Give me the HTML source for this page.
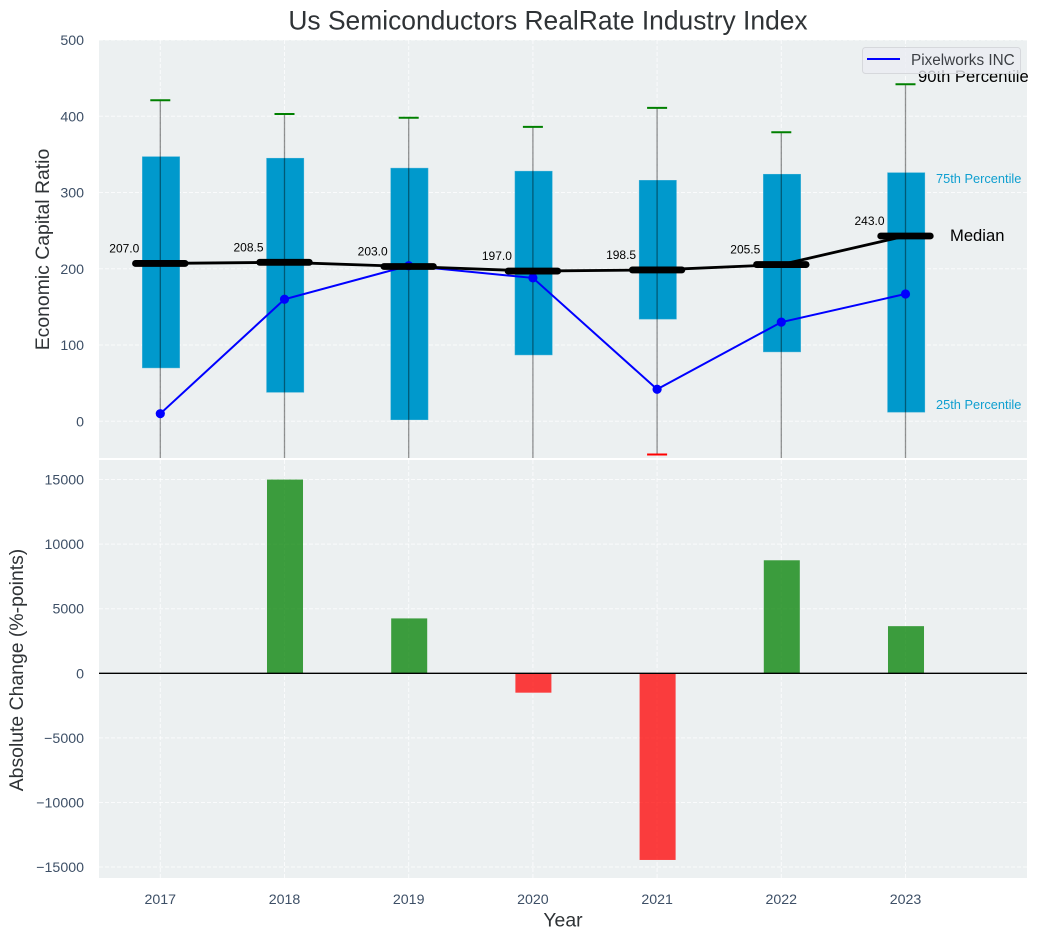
<!DOCTYPE html>
<html lang="en">
<head>
<meta charset="utf-8">
<title>Us Semiconductors RealRate Industry Index</title>
<style>
html,body{margin:0;padding:0;background:#fff;}
svg{display:block;font-family:"Liberation Sans",Arial,sans-serif;}
</style>
</head>
<body>
<svg id="chart" xmlns="http://www.w3.org/2000/svg" width="1038" height="940" viewBox="0 0 1038 940">
  <defs>
    <clipPath id="clip-top"><rect x="99" y="40" width="928" height="418"/></clipPath>
    <clipPath id="clip-bottom"><rect x="99" y="460" width="928" height="418"/></clipPath>
  </defs>
  <rect x="99" y="40" width="928" height="418" fill="#ecf0f1"/>
  <rect x="99" y="460" width="928" height="418" fill="#ecf0f1"/>
  <g id="top-grid" clip-path="url(#clip-top)"></g>
  <g id="bottom-grid" clip-path="url(#clip-bottom)"></g>
  <g id="boxes" clip-path="url(#clip-top)"></g>
  <g id="whiskers" clip-path="url(#clip-top)"></g>
  <g id="company" clip-path="url(#clip-top)"></g>
  <g id="medians" clip-path="url(#clip-top)"></g>
  <g id="median-labels"></g>
  <g id="bars" clip-path="url(#clip-bottom)"></g>
  <line id="zero-line" x1="99" x2="1027" stroke="#000" stroke-width="1.3"/>
  <g id="y-ticks-top"></g>
  <g id="y-ticks-bottom"></g>
  <g id="x-ticks"></g>

  <text x="548" y="29.5" text-anchor="middle" font-size="26.4px" fill="#2f3336">Us Semiconductors RealRate Industry Index</text>
  <text transform="translate(49,249.5) rotate(-90)" text-anchor="middle" font-size="19.4px" fill="#2f3336">Economic Capital Ratio</text>
  <text transform="translate(23,670) rotate(-90)" text-anchor="middle" font-size="19.4px" fill="#2f3336">Absolute Change (%-points)</text>
  <text x="563" y="926.5" text-anchor="middle" font-size="19.4px" fill="#2f3336">Year</text>

  <text x="918" y="82" font-size="16.6px" fill="#000">90th Percentile</text>
  <text x="936" y="183" font-size="12.8px" fill="#0f9fd0">75th Percentile</text>
  <text x="950" y="241" font-size="16.6px" fill="#000">Median</text>
  <text x="936" y="409" font-size="12.8px" fill="#0f9fd0">25th Percentile</text>

  <g>
    <rect x="862.5" y="47.5" width="158" height="26" rx="3" fill="#ebecf2" fill-opacity="0.8" stroke="#d6d8dc" stroke-width="1"/>
    <line x1="867" x2="900" y1="59" y2="59" stroke="#0000ff" stroke-width="2"/>
    <text x="911" y="65" font-size="15.3px" fill="#3c3f44">Pixelworks INC</text>
  </g>
</svg>
<script>
const years = [2017, 2018, 2019, 2020, 2021, 2022, 2023];
const p90 = [421, 403, 398, 386, 411, 379, 442];
const p75 = [347, 345, 332, 328, 316, 324, 326];
const medians = [207.0, 208.5, 203.0, 197.0, 198.5, 205.5, 243.0];
const p25 = [70, 38, 2, 87, 134, 91, 12];
const p10 = [-110, -95, -120, -90, -43.5, -100, -105];
const company = [10, 160, 204, 188, 42, 130, 167];
const changes = [0, 15000, 4250, -1500, -14450, 8750, 3650];
const topTicks = [500, 400, 300, 200, 100, 0];
const bottomTicks = [15000, 10000, 5000, 0, -5000, -10000, -15000];

const NS = 'http://www.w3.org/2000/svg';
const xScale = v => 160.3 + (v - 2017) * 124.2;
const yTop = v => 421.3 - v * 0.7626;
const yBottom = v => 673.3 - v * 0.012917;
const xWidth = yrs => yrs * 124.2;

function make(tag, props, parent, text) {
  const el = document.createElementNS(NS, tag);
  for (const k in props) el.setAttribute(k, props[k]);
  if (text !== undefined) el.textContent = text;
  document.getElementById(parent).appendChild(el);
  return el;
}
const gridStyle = {stroke: '#fff', 'stroke-width': 1, 'stroke-dasharray': '4 2', 'stroke-opacity': 0.75};

topTicks.forEach(t => {
  const line = make('line', Object.assign({x1: 99, x2: 1027, y1: yTop(t), y2: yTop(t)}, gridStyle), 'top-grid');
  
  
  const label = make('text', {x: 84, y: yTop(t) + 5, 'text-anchor': 'end', 'font-size': '14.2px', fill: '#3d4f66'}, 'y-ticks-top', String(t));
  
  
});

bottomTicks.forEach(t => {
  const line = make('line', Object.assign({x1: 99, x2: 1027, y1: yBottom(t), y2: yBottom(t)}, gridStyle), 'bottom-grid');
  
  
  const label = make('text', {x: 84, y: yBottom(t) + 5, 'text-anchor': 'end', 'font-size': '14.2px', fill: '#3d4f66'}, 'y-ticks-bottom', String(t).replace('-', '\u2212'));
  
  
});

years.forEach((yr, i) => {
  const x = xScale(yr);

  const topV = make('line', Object.assign({x1: x, x2: x, y1: 40, y2: 458}, gridStyle), 'top-grid');
  
  

  const botV = make('line', Object.assign({x1: x, x2: x, y1: 460, y2: 878}, gridStyle), 'bottom-grid');
  
  

  const tick = make('text', {x: x, y: 904, 'text-anchor': 'middle', 'font-size': '14.2px', fill: '#3d4f66'}, 'x-ticks', String(yr));
  
  

  const box = make('rect', {x: x - xWidth(0.15) + 0.7, y: yTop(p75[i]), width: xWidth(0.3), height: yTop(p25[i]) - yTop(p75[i]), fill: '#0099cc', stroke: '#3aaed6', 'stroke-width': 0.5}, 'boxes');
  
  

  const whisker = make('line', {x1: x, x2: x, y1: yTop(p90[i]), y2: yTop(p10[i]), stroke: '#000', 'stroke-opacity': 0.42, 'stroke-width': 1.3}, 'whiskers');
  
  

  const capHigh = make('line', {x1: x - 10, x2: x + 10, y1: yTop(p90[i]), y2: yTop(p90[i]), stroke: '#008000', 'stroke-width': 2}, 'whiskers');
  
  

  const capLow = make('line', {x1: x - 10, x2: x + 10, y1: yTop(p10[i]), y2: yTop(p10[i]), stroke: '#ff0000', 'stroke-width': 2}, 'whiskers');
  
  

  const dot = make('circle', {cx: x, cy: yTop(company[i]), r: 4.6, fill: '#0000ff'}, 'company');
  
  

  const seg = make('line', {x1: x - 24.8, x2: x + 24.8, y1: yTop(medians[i]), y2: yTop(medians[i]), stroke: '#000', 'stroke-width': 6.8, 'stroke-linecap': 'round'}, 'medians');
  
  

  const val = make('text', {x: x - 21, y: yTop(medians[i]) - 11, 'text-anchor': 'end', 'font-size': '12px', fill: '#000'}, 'median-labels', medians[i].toFixed(1));
  
  

  if (changes[i] !== 0) {
    const y0 = yBottom(Math.max(changes[i], 0));
    const y1 = yBottom(Math.min(changes[i], 0));
    const bar = make('rect', {x: x - xWidth(0.145) + 0.5, y: y0, width: xWidth(0.29), height: y1 - y0, fill: changes[i] > 0 ? '#008000' : '#ff0000', 'fill-opacity': 0.75}, 'bars');
    
    
  }
});

const companyLine = make('polyline', {points: years.map((y, i) => xScale(y) + ',' + yTop(company[i])).join(' '), fill: 'none', stroke: '#0000ff', 'stroke-width': 2}, 'company');



const medianLine = make('polyline', {points: years.map((y, i) => xScale(y) + ',' + yTop(medians[i])).join(' '), fill: 'none', stroke: '#000', 'stroke-width': 2.8}, 'medians');



const zero = document.getElementById('zero-line');
zero.setAttribute('y1', yBottom(0));
zero.setAttribute('y2', yBottom(0));
</script>
</body>
</html>
